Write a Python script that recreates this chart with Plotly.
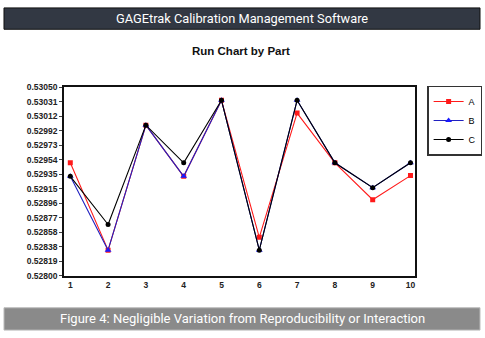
import plotly.graph_objects as go

parts = [1, 2, 3, 4, 5, 6, 7, 8, 9, 10]
series_a = [0.52950, 0.52834, 0.53000, 0.52932, 0.53033, 0.52851, 0.53016, 0.52950, 0.52901, 0.52933]
series_b = [0.52932, 0.52834, 0.53000, 0.52932, 0.53033, 0.52834, 0.53033, 0.52950, 0.52917, 0.52950]
series_c = [0.52932, 0.52868, 0.53000, 0.52950, 0.53033, 0.52834, 0.53033, 0.52950, 0.52917, 0.52950]
y_ticks = [0.528 + i * 0.0025 / 13 for i in range(14)]
y_tick_labels = [f"<b>{v:.5f}</b>" for v in y_ticks]

W, H = 485, 338
fig = go.Figure()
fig.add_trace(go.Scatter(x=parts, y=series_a, name="A", mode="lines+markers",
                         line=dict(color="#ff1a1a", width=1.1),
                         marker=dict(symbol="square", size=5, color="#ff1a1a")))
fig.add_trace(go.Scatter(x=parts, y=series_b, name="B", mode="lines+markers",
                         line=dict(color="#2020c0", width=1.1),
                         marker=dict(symbol="triangle-up", size=6, color="#1a1aff")))
fig.add_trace(go.Scatter(x=parts, y=series_c, name="C", mode="lines+markers",
                         line=dict(color="#000000", width=1.1),
                         marker=dict(symbol="circle", size=5, color="#000000")))

x0, x1 = 64 / W, 415.5 / W
y0, y1 = 1 - 279 / H, 1 - 85 / H

fig.update_layout(
    width=W, height=H, margin=dict(l=0, r=0, t=0, b=0),
    paper_bgcolor="white", plot_bgcolor="white",
    showlegend=True,
    legend=dict(x=428 / W, y=1 - 83 / H, xanchor="left", yanchor="top",
                bordercolor="#333333", borderwidth=1.5, bgcolor="white",
                font=dict(family="Arial, Liberation Sans", size=9, color="#000"),
                itemwidth=30, tracegroupgap=0),
    xaxis=dict(domain=[x0, x1], range=[0.83, 10.11], tickvals=parts,
               ticktext=[f"<b>{p}</b>" for p in parts], showgrid=False, zeroline=False,
               showline=True, linecolor="#111", linewidth=1.5, mirror=True, ticks="",
               tickfont=dict(family="Arial, Liberation Sans", size=8.5, color="#222")),
    yaxis=dict(domain=[y0, y1], range=[0.528, 0.5305], tickvals=y_ticks,
               ticktext=y_tick_labels, showgrid=False, zeroline=False,
               showline=True, linecolor="#111", linewidth=1.5, mirror=True,
               ticks="outside", ticklen=3, tickcolor="#444",
               tickfont=dict(family="Arial, Liberation Sans", size=8.5, color="#222")),
    shapes=[
        dict(type="rect", xref="paper", yref="paper", x0=4 / W, x1=481 / W,
             y0=1 - 25 / H, y1=1 - 3 / H, fillcolor="#323843",
             line=dict(color="#111", width=1), layer="below"),
        dict(type="rect", xref="paper", yref="paper", x0=4 / W, x1=481 / W,
             y0=1 - 335 / H, y1=1 - 312 / H, fillcolor="#8a8a8a",
             line=dict(color="#bbbbbb", width=1), layer="below"),
    ],
    annotations=[
        dict(text="GAGEtrak Calibration Management Software", xref="paper", yref="paper",
             x=0.5, y=1 - 14 / H, xanchor="center", yanchor="middle", showarrow=False,
             font=dict(family="Roboto", size=12.8, color="white")),
        dict(text="<b>Run Chart by Part</b>", xref="paper", yref="paper",
             x=241 / W, y=1 - 47 / H, xanchor="center", yanchor="middle", showarrow=False,
             font=dict(family="Arial, Liberation Sans", size=11.5, color="#111")),
        dict(text="Figure 4: Negligible Variation from Reproducibility or Interaction",
             xref="paper", yref="paper", x=0.5, y=1 - 323.5 / H, xanchor="center",
             yanchor="middle", showarrow=False,
             font=dict(family="Roboto", size=13, color="white")),
    ],
)

fig.write_html("out.html")
